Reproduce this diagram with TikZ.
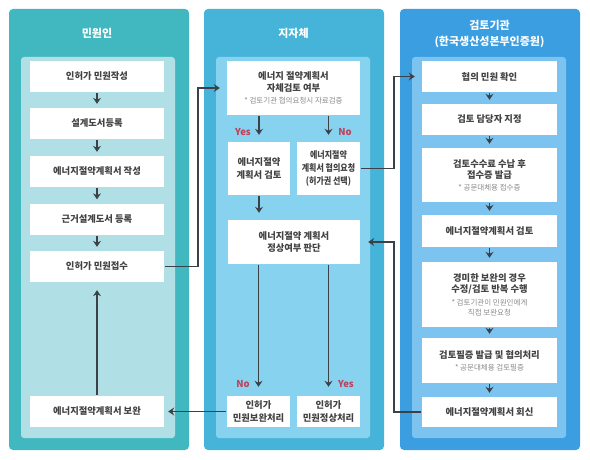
\documentclass[tikz,border=0pt]{standalone}
\usepackage{fontspec}
\setmainfont{Noto Sans CJK KR}
\usepackage{tikz}
\usetikzlibrary{positioning, arrows.meta, calc}

\definecolor{tealOuter}{HTML}{41B8C0}
\definecolor{tealInner}{HTML}{B0E0E5}
\definecolor{skyOuter}{HTML}{46B4D8}
\definecolor{skyInner}{HTML}{87D3EF}
\definecolor{blueOuter}{HTML}{3A9EE0}
\definecolor{blueInner}{HTML}{7CC4EF}
\definecolor{lineGray}{HTML}{3C4047}
\definecolor{textGray}{HTML}{424242}
\definecolor{noteGray}{HTML}{8A8A8A}
\definecolor{ynRed}{HTML}{C0405A}

\newcommand{\notetext}[1]{{\mdseries\color{noteGray}\fontsize{7.5}{9}\selectfont #1}}

\begin{document}
\begin{tikzpicture}[x=1pt, y=-1pt, >={Stealth[length=6pt, width=8pt]},
  box/.style={fill=white, text=textGray, align=center, inner sep=0pt,
    font=\bfseries\fontsize{9.3}{12}\selectfont},
  flow/.style={->, line width=1.4pt, draw=lineGray, shorten <=1pt, shorten >=4pt},
  yn/.style={font=\bfseries\fontsize{9.5}{11}\selectfont, text=ynRed},
  title/.style={font=\bfseries\fontsize{11}{16}\selectfont, text=white, align=center}]

\useasboundingbox (0, 0) rectangle (590, 460);

% --- Column panels ---
\fill[tealOuter, rounded corners=4pt] (9, 9) rectangle (189, 450);
\fill[tealInner, rounded corners=3pt] (21, 57) rectangle (175, 438);
\fill[skyOuter, rounded corners=4pt] (204, 9) rectangle (384, 450);
\fill[skyInner, rounded corners=3pt] (216, 57) rectangle (370, 438);
\fill[blueOuter, rounded corners=4pt] (400, 9) rectangle (580, 450);
\fill[blueInner, rounded corners=3pt] (412, 57) rectangle (566, 438);

% --- Column titles ---
\node[title] (civTitle) at (97, 33) {민원인};
\node[title] (locTitle) at (293.5, 33) {지자체};
\node[title] (revTitle) at (489.5, 33.5) {검토기관\\(한국생산성본부인증원)};

% --- 민원인 ---
\foreach \n/\y/\t in {1/76.5/인허가 민원작성, 2/123.5/설계도서등록,
  3/171.5/에너지절약계획서 작성, 4/219/근거설계도서 등록,
  5/266.5/인허가 민원접수, 6/411.5/에너지절약계획서 보완} {
  \node[box, minimum width=134, minimum height=31] (civ\n) at (97, \y) {\t};
}
\foreach \a/\b in {1/2, 2/3, 3/4, 4/5} {
  \draw[flow] (civ\a) -- (civ\b);
}
\draw[flow, shorten >=8pt] (civ6) -- (civ5);

% --- 지자체 ---
\node[box, minimum width=133, minimum height=54] (locChk) at (293.5, 88)
  {에너지 절약계획서\\[-0.5pt]자체검토 여부\\\notetext{* 검토기관 협의요청시 자료검증}};
\node[box, minimum width=62, minimum height=53, font=\bfseries\fontsize{9.3}{13}\selectfont]
  (locYes) at (259, 168.5) {에너지절약\\계획서 검토};
\node[box, minimum width=63, minimum height=53,
  font=\bfseries\fontsize{9.3}{13}\selectfont\addfontfeature{FakeStretch=0.86}]
  (locNo) at (328.5, 168.5) {에너지절약\\계획서 협의요청\\(허가권 선택)};
\node[box, minimum width=132, minimum height=44] (locJudge) at (294, 242)
  {에너지절약 계획서\\정상여부 판단};
\node[box, minimum width=63, minimum height=31, font=\bfseries\fontsize{9.3}{13}\selectfont]
  (locBad) at (258.5, 411.5) {인허가\\민원보완처리};
\node[box, minimum width=63, minimum height=31, font=\bfseries\fontsize{9.3}{13}\selectfont]
  (locGood) at (328.5, 411.5) {인허가\\민원정상처리};

\draw[flow, shorten >=7pt] (locYes.north |- locChk.south) -- (locYes.north);
\draw[flow, shorten >=7pt] (locNo.north |- locChk.south) -- (locNo.north);
\draw[flow, shorten >=7pt] (locYes) -- (locYes.south |- locJudge.north);
\draw[flow, shorten >=9pt] (locBad.north |- locJudge.south) -- (locBad.north);
\draw[flow, shorten >=9pt] (locGood.north |- locJudge.south) -- (locGood.north);

\node[yn] (ynYesTop) at (243, 132) {Yes};
\node[yn] (ynNoTop) at (345, 132) {No};
\node[yn] (ynNoBot) at (243, 384) {No};
\node[yn] (ynYesBot) at (346, 384) {Yes};

% --- 검토기관 ---
\node[box, minimum width=135, minimum height=31] (rev1) at (489.5, 76.5) {협의 민원 확인};
\node[box, minimum width=135, minimum height=31] (rev2) at (489.5, 119.5) {검토 담당자 지정};
\node[box, minimum width=135, minimum height=54] (rev3) at (489.5, 175)
  {검토수수료 수납 후\\[-1pt]접수증 발급\\\notetext{* 공문대체용 접수증}};
\node[box, minimum width=135, minimum height=32] (rev4) at (489.5, 231) {에너지절약계획서 검토};
\node[box, minimum width=135, minimum height=65] (rev5) at (489.5, 294.5)
  {경미한 보완의 경우\\[-1pt]수정/검토 반복 수행\\[1pt]\notetext{* 검토기관이 민원인에게}\\[-2pt]\notetext{직접 보완요청}};
\node[box, minimum width=135, minimum height=45] (rev6) at (489.5, 360.5)
  {검토필증 발급 및 협의처리\\\notetext{* 공문대체용 검토필증}};
\node[box, minimum width=135, minimum height=30] (rev7) at (489.5, 412) {에너지절약계획서 회신};
\foreach \a/\b in {1/2, 2/3, 3/4, 4/5, 5/6, 6/7} {
  \draw[flow] (rev\a) -- (rev\b);
}

% --- Links between columns ---
\coordinate (busL) at (198, 180);
\coordinate (busR) at (394, 120);
\coordinate (busB) at (394, 300);
\draw[flow, shorten >=7pt] (civ5.east) -| (busL) |- (locChk.west);
\draw[flow, shorten >=7pt] (locNo.east) -| (busR) |- (rev1.west);
\draw[flow, shorten >=8pt] (rev7.west) -| (busB) |- (locJudge.east);
\draw[flow] (locBad.west) -- (civ6.east);

\end{tikzpicture}
\end{document}
